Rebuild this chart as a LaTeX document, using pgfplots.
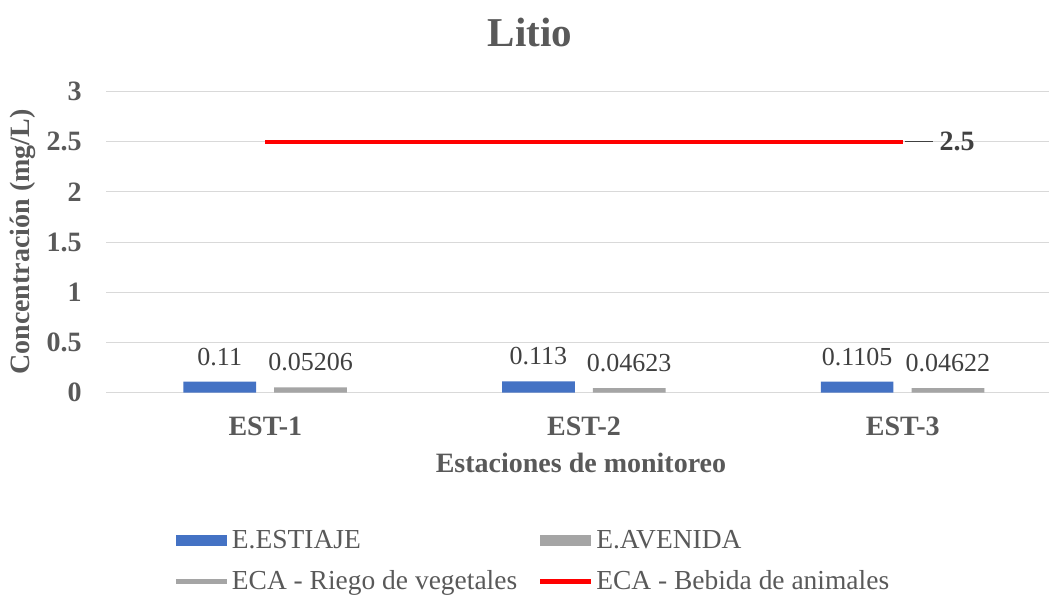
\documentclass[border=0pt]{standalone}
\usepackage{fontspec}
\setmainfont{Liberation Serif}
\newfontfamily\legfont{Liberation Serif}
\usepackage{pgfplots}
\pgfplotsset{compat=1.18}
\definecolor{estiaje}{HTML}{4472C4}
\definecolor{avenida}{HTML}{A5A5A5}
\definecolor{ecared}{HTML}{FF0000}
\definecolor{gridgray}{HTML}{D9D9D9}
\definecolor{txtgray}{HTML}{595959}
\definecolor{lblgray}{HTML}{404040}

\begin{document}
\begin{tikzpicture}
\useasboundingbox (0,0) rectangle (786.75pt,448.5pt);
\begin{axis}[
  at={(79.5pt,154pt)}, anchor=south west,
  scale only axis, width=707.25pt, height=225.75pt,
  xmin=-0.5, xmax=2.459, ymin=0, ymax=3,
  xtick={0,1,2}, xticklabels={EST-1,EST-2,EST-3},
  ytick={0,0.5,1,1.5,2,2.5,3},
  yticklabels={0,0.5,1,1.5,2,2.5,3},
  ymajorgrids, grid style={gridgray, line width=0.75pt},
  axis line style={draw=none},
  major tick length=0pt, tick style={draw=none},
  ticklabel style={font=\fontsize{21}{24}\selectfont\bfseries, text=txtgray},
  yticklabel style={anchor=east, inner sep=0pt, xshift=-18pt},
  xticklabel style={anchor=base, inner sep=0pt, yshift=-32.5pt},
  ylabel={Concentración (mg/L)},
  ylabel style={at={(axis description cs:-0.088,0.5)}, anchor=center,
    font=\fontsize{21}{24}\selectfont\bfseries, text=txtgray},
  xlabel={Estaciones de monitoreo},
  xlabel style={at={(axis description cs:0.5037,-0.2668)}, anchor=base,
    font=\fontsize{21}{24}\selectfont\bfseries, text=txtgray},
  title={Litio},
  title style={at={(axis description cs:0.4496,1.122)}, anchor=base,
    font=\fontsize{30.75}{34}\selectfont\bfseries, text=txtgray},
  legend columns=2,
  legend cell align=left,
  legend style={at={(axis description cs:0.0668,-0.44)}, anchor=north west,
    draw=none, fill=none, font=\legfont\fontsize{20.6}{24}\selectfont, text=txtgray,
    row sep=11pt},
]
\addplot[ybar, bar width=54.5pt, bar shift=-34.2pt, fill=estiaje, draw=none,
  legend image code/.code={\fill[estiaje] (0pt,-4.1pt) rectangle (38.25pt,4.1pt);},
  nodes near coords, point meta=explicit symbolic,
  nodes near coords style={font=\fontsize{19.5}{22}\selectfont, text=lblgray,
    anchor=base, inner sep=0pt, yshift=12.4pt, xshift=-34.2pt}]
  coordinates {(0,0.11)[0.11] (1,0.113)[0.113] (2,0.1105)[0.1105]};
\addlegendentry{\makebox[227.25pt][l]{\legfont E.ESTIAJE}}
\addplot[ybar, bar width=54.5pt, bar shift=33.9pt, fill=avenida, draw=none,
  legend image code/.code={\fill[avenida] (0pt,-4.1pt) rectangle (38.25pt,4.1pt);},
  nodes near coords, point meta=explicit symbolic,
  nodes near coords style={font=\fontsize{19.5}{22}\selectfont, text=lblgray,
    anchor=base, inner sep=0pt, yshift=12.4pt, xshift=33.9pt}]
  coordinates {(0,0.05206)[0.05206] (1,0.04623)[0.04623] (2,0.04622)[0.04622]};
\addlegendentry{\legfont E.AVENIDA}
\addplot[sharp plot, avenida, line width=3pt,
  legend image code/.code={\draw[avenida, line width=3.75pt] (0pt,0pt) -- (38.25pt,0pt);}]
  coordinates {(0,2.5) (1,2.5) (2,2.5)};
\addlegendentry{\makebox[227.25pt][l]{\legfont ECA - Riego de vegetales}}
\addplot[sharp plot, ecared, line width=3pt,
  legend image code/.code={\draw[ecared, line width=3.75pt] (0pt,0pt) -- (38.25pt,0pt);},
  nodes near coords, point meta=explicit symbolic,
  nodes near coords style={anchor=west, inner sep=0pt, text=lblgray,
    font=\fontsize{21}{24}\selectfont}]
  coordinates {(0,2.5)[{}] (1,2.5)[{}]
    (2,2.5)[{\rule[6.7pt]{21pt}{0.75pt}\hspace{5.25pt}\textbf{2.5}}]};
\addlegendentry{\legfont ECA - Bebida de animales}
\end{axis}
\end{tikzpicture}
\end{document}
